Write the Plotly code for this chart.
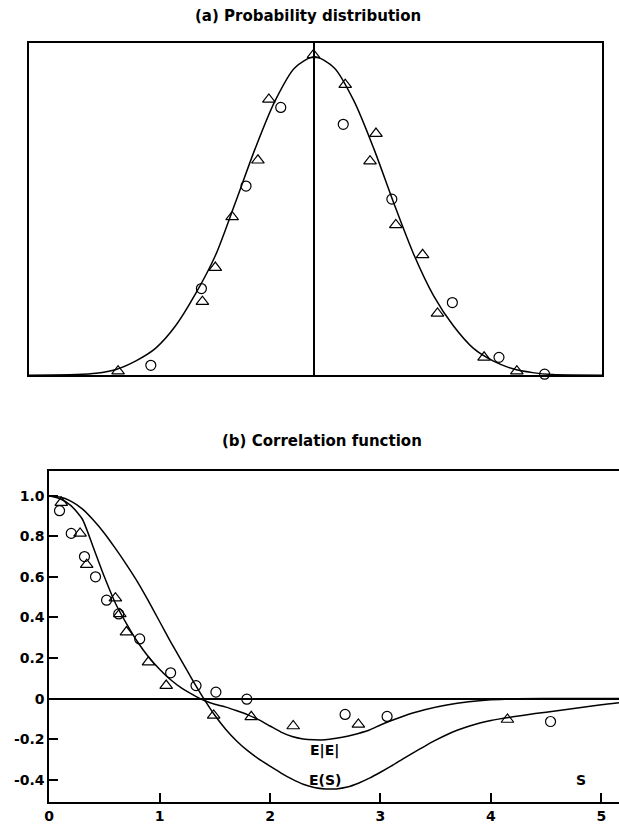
import plotly.graph_objects as go

# ---------- (a) Probability distribution ----------
xa_curve = [-2.88, -2.4, -2.2, -2.0, -1.8, -1.6, -1.4, -1.2, -1.0, -0.8, -0.6, -0.4, -0.2, 0.0,
            0.2, 0.4, 0.6, 0.8, 1.0, 1.2, 1.4, 1.6, 1.8, 2.0, 2.2, 2.4, 2.9]
ya_curve = [0.0, 0.002, 0.006, 0.018, 0.045, 0.085, 0.155, 0.255, 0.375, 0.54, 0.71, 0.86, 0.965, 1.0,
            0.965, 0.86, 0.71, 0.54, 0.38, 0.25, 0.155, 0.085, 0.045, 0.02, 0.008, 0.002, 0.0]

xa_tri = [-1.98, -1.13, -1.00, -0.83, -0.57, -0.46, -0.01, 0.31, 0.62, 0.56, 0.82, 1.09, 1.24, 1.71, 2.04]
ya_tri = [0.0125, 0.231, 0.338, 0.497, 0.675, 0.866, 1.006, 0.9125, 0.759, 0.672, 0.472, 0.378, 0.194, 0.056, 0.0125]

xa_circ = [-1.65, -1.14, -0.69, -0.34, 0.29, 0.78, 1.39, 1.86, 2.32]
ya_circ = [0.031, 0.272, 0.594, 0.841, 0.788, 0.553, 0.228, 0.056, 0.003]

# ---------- (b) Correlation function ----------
xs_curve = [0, 0.1, 0.2, 0.3, 0.4, 0.5, 0.6, 0.7, 0.8, 0.9, 1.0, 1.1, 1.2, 1.3, 1.4, 1.5, 1.6, 1.7,
            1.8, 1.9, 2.0, 2.1, 2.2, 2.3, 2.4, 2.5, 2.6, 2.7, 2.8, 2.9, 3.0, 3.1, 3.2, 3.3, 3.4, 3.5,
            3.6, 3.7, 3.8, 3.9, 4.0, 4.2, 4.4, 4.6, 4.8, 5.0, 5.16]
ys_curve = [1.0, 0.993, 0.972, 0.935, 0.88, 0.815, 0.74, 0.66, 0.575, 0.48, 0.38, 0.28, 0.185, 0.09,
            0.0, -0.082, -0.152, -0.21, -0.258, -0.298, -0.333, -0.367, -0.397, -0.422, -0.438,
            -0.445, -0.445, -0.436, -0.417, -0.392, -0.363, -0.332, -0.298, -0.266, -0.235, -0.205,
            -0.178, -0.155, -0.136, -0.12, -0.108, -0.09, -0.074, -0.06, -0.045, -0.03, -0.02]

xe_curve = [0, 0.1, 0.2, 0.3, 0.4, 0.5, 0.6, 0.7, 0.8, 0.9, 1.0, 1.1, 1.2, 1.3, 1.4, 1.5, 1.6, 1.7,
            1.8, 1.9, 2.0, 2.1, 2.2, 2.3, 2.4, 2.5, 2.6, 2.7, 2.8, 2.9, 3.0, 3.1, 3.2, 3.3, 3.4, 3.6,
            3.8, 4.0, 4.2, 4.5, 5.16]
ye_curve = [1.0, 0.985, 0.95, 0.885, 0.745, 0.60, 0.47, 0.37, 0.28, 0.205, 0.145, 0.093, 0.052, 0.02,
            -0.008, -0.028, -0.042, -0.06, -0.08, -0.105, -0.135, -0.165, -0.187, -0.199, -0.203,
            -0.203, -0.196, -0.186, -0.172, -0.155, -0.13, -0.108, -0.088, -0.07, -0.055, -0.032,
            -0.016, -0.006, -0.001, 0.0, 0.0]

xb_tri = [0.11, 0.28, 0.34, 0.60, 0.64, 0.70, 0.90, 1.06, 1.49, 1.83, 2.21, 2.80, 4.15]
yb_tri = [0.966, 0.814, 0.66, 0.495, 0.417, 0.328, 0.18, 0.064, -0.083, -0.09, -0.135, -0.127, -0.103]

xb_circ = [0.094, 0.20, 0.32, 0.42, 0.52, 0.63, 0.82, 1.10, 1.33, 1.51, 1.79, 2.68, 3.06, 4.54]
yb_circ = [0.926, 0.814, 0.70, 0.60, 0.485, 0.417, 0.294, 0.127, 0.064, 0.032, -0.003, -0.078, -0.088, -0.113]

y_tickvals = [1.0, 0.8, 0.6, 0.4, 0.2, 0.0, -0.2, -0.4]
y_ticktext = ["1.0", "0.8", "0.6", "0.4", "0.2", "0", "-0.2", "-0.4"]
x_tickvals = [0, 1, 2, 3, 4, 5]
x_ticktext = ["0", "1", "2", "3", "4", "5"]

FONT = "DejaVu Sans"
W, H = 619, 824

fig = go.Figure()

line_a = dict(color="black", width=1.5, shape="spline", smoothing=0.8)
line_b = dict(color="black", width=1.5, shape="spline", smoothing=0.6)
tri_style = dict(symbol="triangle-up-open", size=11, color="black", line=dict(width=1.2, color="black"))
circ_style = dict(symbol="circle-open", size=10, color="black", line=dict(width=1.2, color="black"))

# panel (a)
fig.add_trace(go.Scatter(x=xa_curve, y=ya_curve, mode="lines", line=line_a,
                         xaxis="x", yaxis="y", showlegend=False))
fig.add_trace(go.Scatter(x=xa_tri, y=ya_tri, mode="markers", marker=tri_style,
                         xaxis="x", yaxis="y", showlegend=False, cliponaxis=False))
fig.add_trace(go.Scatter(x=xa_circ, y=ya_circ, mode="markers", marker=circ_style,
                         xaxis="x", yaxis="y", showlegend=False, cliponaxis=False))

# panel (b)
fig.add_trace(go.Scatter(x=xs_curve, y=ys_curve, mode="lines", line=line_b,
                         xaxis="x2", yaxis="y2", showlegend=False))
fig.add_trace(go.Scatter(x=xe_curve, y=ye_curve, mode="lines", line=line_b,
                         xaxis="x2", yaxis="y2", showlegend=False))
fig.add_trace(go.Scatter(x=xb_tri, y=yb_tri, mode="markers", marker=tri_style,
                         xaxis="x2", yaxis="y2", showlegend=False, cliponaxis=False))
fig.add_trace(go.Scatter(x=xb_circ, y=yb_circ, mode="markers", marker=circ_style,
                         xaxis="x2", yaxis="y2", showlegend=False, cliponaxis=False))

tick_font = dict(family=FONT, size=14, color="black", weight="bold")
label_font = dict(family=FONT, size=14, color="black", weight="bold")

fig.update_layout(
    width=W, height=H,
    margin=dict(l=0, r=0, t=0, b=0),
    paper_bgcolor="white", plot_bgcolor="white",
    xaxis=dict(domain=[24 / W, 602 / W], range=[-2.88, 2.90], anchor="y",
               showline=True, mirror=True, linecolor="black", linewidth=1.5,
               showgrid=False, showticklabels=False, ticks="",
               zeroline=True, zerolinecolor="black", zerolinewidth=1.5),
    yaxis=dict(domain=[1 - 377 / H, 1 - 43 / H], range=[0, 1.044], anchor="x",
               showline=True, mirror=True, linecolor="black", linewidth=1.5,
               showgrid=False, showticklabels=False, ticks="", zeroline=False),
    xaxis2=dict(domain=[44.5 / W, 1.0], range=[0, 5.16], anchor="y2",
                showline=True, mirror=True, linecolor="black", linewidth=1.5,
                showgrid=False, zeroline=False,
                tickvals=x_tickvals, ticktext=x_ticktext,
                ticks="inside", ticklen=9, tickwidth=1.5, tickcolor="black",
                tickfont=tick_font),
    yaxis2=dict(domain=[1 - 806 / H, 1 - 473 / H], range=[-0.51, 1.123], anchor="x2",
                showline=True, linecolor="black", linewidth=1.5,
                showgrid=False,
                zeroline=True, zerolinecolor="black", zerolinewidth=1.5,
                tickvals=y_tickvals, ticktext=y_ticktext,
                ticks="inside", ticklen=9, tickwidth=1.5, tickcolor="black",
                tickfont=tick_font),
    annotations=[
        dict(text="(a) Probability distribution", xref="paper", yref="paper",
             x=305 / W, y=1 - 16 / H, showarrow=False, xanchor="center", yanchor="middle",
             font=dict(family=FONT, size=15, color="black", weight="bold")),
        dict(text="(b) Correlation function", xref="paper", yref="paper",
             x=320 / W, y=1 - 443 / H, showarrow=False, xanchor="center", yanchor="middle",
             font=dict(family=FONT, size=15, color="black", weight="bold")),
        dict(text="E|E|", xref="x2", yref="y2", x=2.49, y=-0.255, showarrow=False,
             xanchor="center", yanchor="middle", font=label_font),
        dict(text="E(S)", xref="x2", yref="y2", x=2.50, y=-0.40, showarrow=False,
             xanchor="center", yanchor="middle", font=label_font),
        dict(text="S", xref="x2", yref="y2", x=4.82, y=-0.40, showarrow=False,
             xanchor="center", yanchor="middle", font=label_font),
    ],
)

fig.write_html("out.html")
